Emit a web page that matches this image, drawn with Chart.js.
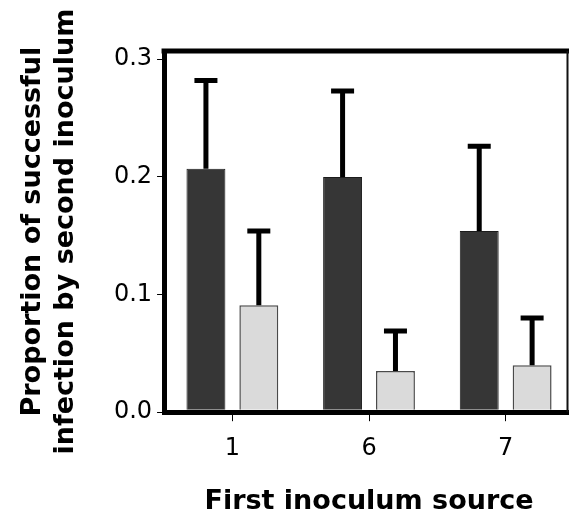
<!DOCTYPE html>
<html>
<head>
<meta charset="utf-8">
<script src="https://cdn.jsdelivr.net/npm/chart.js@4.4.0/dist/chart.umd.min.js"></script>
<style>
  html, body { margin: 0; padding: 0; background: #fff; overflow: hidden; }
  #wrap { width: 569px; height: 514px; overflow: hidden; }
  #box { width: 576px; height: 514px; }
</style>
</head>
<body>
<div id="wrap"><div id="box"><canvas id="chart"></canvas></div></div>
<script>
// data =====================================================================

const sources = ["1", "6", "7"];
const darkMeans = [0.207, 0.2, 0.154];
const darkErrors = [0.075, 0.073, 0.072];
const lightMeans = [0.091, 0.035, 0.04];
const lightErrors = [0.063, 0.034, 0.04];
const yTicks = [0.0, 0.1, 0.2, 0.3];

const VIEW_W = 569; // visible width of the page, the plot runs past it

Chart.defaults.font.family = "DejaVu Sans";
Chart.defaults.color = "#000";

// error bars (upper only, with cap) ========================================

const errorBars = {
  id: "errorBars",
  afterDatasetsDraw(chart) {
    const ctx = chart.ctx;
    const y = chart.scales.y;
    chart.data.datasets.forEach((ds, i) => {
      chart.getDatasetMeta(i).data.forEach((bar, j) => {
        const top = y.getPixelForValue(ds.data[j] + ds.errors[j]);
        ctx.save();
        ctx.strokeStyle = "#000";
        ctx.lineWidth = 5;
        ctx.beginPath();
        ctx.moveTo(bar.x, bar.y);
        ctx.lineTo(bar.x, top);
        ctx.moveTo(bar.x - 11.5, top);
        ctx.lineTo(bar.x + 11.5, top);
        ctx.stroke();
        ctx.restore();
      });
    });
  },
};

// top line and right frame =================================================

const frame = {
  id: "frame",
  afterDraw(chart) {
    const { ctx, chartArea } = chart;
    ctx.save();
    ctx.strokeStyle = "#000";
    ctx.lineWidth = 5;
    ctx.beginPath();
    ctx.moveTo(chartArea.left - 2.5, chartArea.top);
    ctx.lineTo(chart.width, chartArea.top);
    ctx.stroke();
    ctx.strokeStyle = "#111";
    ctx.lineWidth = 2;
    ctx.beginPath();
    ctx.moveTo(VIEW_W - 1.5, chartArea.top);
    ctx.lineTo(VIEW_W - 1.5, chartArea.bottom);
    ctx.stroke();
    ctx.restore();
  },
};

const data = {
  labels: sources,
  datasets: [
    {
      data: darkMeans,
      errors: darkErrors,
      backgroundColor: "#363636",
      borderColor: "#1c1c1c",
      borderWidth: 1,
      categoryPercentage: 0.774,
      barPercentage: 0.736,
    },
    {
      data: lightMeans,
      errors: lightErrors,
      backgroundColor: "#dadada",
      borderColor: "#4a4a4a",
      borderWidth: 1.5,
      categoryPercentage: 0.774,
      barPercentage: 0.736,
    },
  ],
};

const config = {
  type: "bar",
  data: data,
  options: {
    responsive: true,
    maintainAspectRatio: false,
    animation: false,
    layout: { padding: { top: 51, right: 2, left: 0, bottom: 0 } },
    plugins: { legend: { display: false }, tooltip: { enabled: false } },
    scales: {
      x: {
        grid: {
          offset: false,
          drawOnChartArea: false,
          lineWidth: 5,
          tickLength: 9,
          tickWidth: 1,
          tickColor: "#000",
        },
        border: { display: true, width: 5, color: "#000" },
        ticks: { font: { size: 24 }, color: "#000", padding: 13 },
        title: {
          display: true,
          text: "First inoculum source",
          font: { size: 27, weight: "bold", lineHeight: 1 },
          color: "#000",
          padding: { top: 12, bottom: -1 },
        },
      },
      y: {
        min: 0,
        max: 0.307,
        afterBuildTicks: (scale) => {
          scale.ticks = yTicks.map((v) => ({ value: v }));
        },
        grid: {
          drawOnChartArea: false,
          lineWidth: 5,
          tickLength: 7,
          tickWidth: 1,
          tickColor: "#000",
        },
        border: { display: true, width: 5, color: "#000" },
        ticks: {
          font: { size: 24 },
          color: "#000",
          padding: 5,
          callback: (v) => Number(v).toFixed(1),
        },
        title: {
          display: true,
          text: ["Proportion of successful", "infection by second inoculum"],
          font: { size: 27, weight: "bold", lineHeight: 1.22 },
          color: "#000",
          padding: { top: 16.5, bottom: 26.5 },
        },
      },
    },
  },
  plugins: [errorBars, frame],
};

const chart = new Chart(document.getElementById("chart"), config);
</script>
</body>
</html>
